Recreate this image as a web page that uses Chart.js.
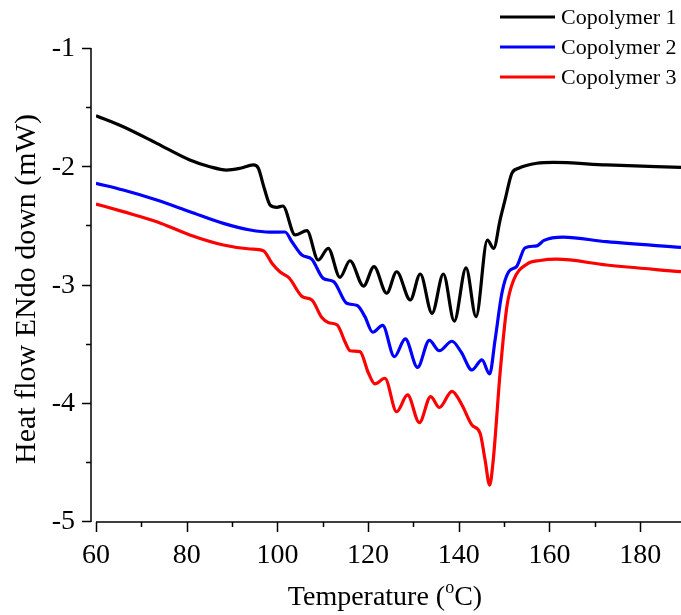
<!DOCTYPE html>
<html>
<head>
<meta charset="utf-8">
<script src="https://cdn.jsdelivr.net/npm/chart.js@4.4.0/dist/chart.umd.min.js"></script>
<style>
  html, body { margin: 0; padding: 0; background: #fff; }
  #wrap { width: 681px; height: 615px; position: relative; }
</style>
</head>
<body>
<div id="wrap"><canvas id="dsc"></canvas></div>
<script>
// DSC traces, temperature in degC and heat flow in mW
const temp1 = [60, 66, 73.4, 80.7, 85.1, 88.8, 91.8, 94.7, 95.8, 97.0, 98.4, 99.9, 101.2, 103.9, 106.5, 109.0, 111.2, 113.8, 116.0, 119.0, 121.3, 124.1, 126.3, 129.3, 131.5, 134.1, 136.6, 139.0, 141.6, 143.8, 146.3, 147.7, 149.1, 150.2, 151.7, 153.2, 157.2, 160.9, 172.6, 189];
const flow1 = [-1.573, -1.666, -1.806, -1.947, -2.004, -2.032, -2.017, -1.989, -2.017, -2.173, -2.328, -2.347, -2.336, -2.581, -2.545, -2.793, -2.694, -2.939, -2.799, -3.013, -2.849, -3.074, -2.892, -3.131, -2.911, -3.244, -2.911, -3.31, -2.86, -3.272, -2.624, -2.694, -2.455, -2.285, -2.06, -2.017, -1.975, -1.967, -1.989, -2.009];

const temp2 = [60, 66, 73.4, 80.7, 88.1, 94.0, 98.4, 101.7, 103.2, 105.4, 107.6, 110.1, 112.4, 115.3, 117.6, 119.3, 121.0, 123.2, 125.8, 128.2, 130.9, 133.5, 135.7, 138.5, 140.5, 142.9, 145.1, 146.8, 148.0, 149.5, 151.0, 152.8, 154.6, 157.2, 158.8, 163, 172.6, 189];
const flow2 = [-2.144, -2.201, -2.285, -2.384, -2.483, -2.539, -2.557, -2.556, -2.638, -2.751, -2.787, -2.948, -2.975, -3.159, -3.178, -3.272, -3.403, -3.346, -3.61, -3.46, -3.701, -3.472, -3.56, -3.48, -3.57, -3.723, -3.638, -3.757, -3.469, -3.074, -2.892, -2.845, -2.69, -2.673, -2.627, -2.6, -2.638, -2.686];

const temp3 = [60, 66, 73.4, 80.7, 88.1, 94.0, 96.9, 98.8, 100.6, 102.6, 105.5, 107.6, 109.8, 111.3, 113.2, 114.9, 116.0, 118.2, 120.1, 121.5, 123.7, 126.3, 128.7, 131.3, 133.8, 135.7, 138.5, 140.7, 142.9, 144.7, 145.8, 146.8, 147.6, 149.1, 150.6, 152.1, 155.0, 157.9, 161.6, 172.6, 189];
const flow3 = [-2.319, -2.384, -2.469, -2.581, -2.666, -2.7, -2.714, -2.821, -2.895, -2.945, -3.103, -3.131, -3.28, -3.323, -3.342, -3.484, -3.56, -3.568, -3.751, -3.841, -3.793, -4.076, -3.934, -4.168, -3.948, -4.04, -3.904, -4.019, -4.188, -4.258, -4.484, -4.696, -4.484, -3.751, -3.188, -2.962, -2.828, -2.797, -2.786, -2.835, -2.892];

const seriesNames = ['Copolymer 1', 'Copolymer 2', 'Copolymer 3'];
const seriesColors = ['#000000', '#0000ff', '#ff0000'];

const xTicks = [60, 80, 100, 120, 140, 160, 180];
const xMinor = [70, 90, 110, 130, 150, 170];
const yTicks = [-1, -2, -3, -4, -5];
const yMinor = [-1.5, -2.5, -3.5, -4.5];

const SERIF = '"Liberation Serif", "Times New Roman", serif';

function pairs(xs, ys) {
  return xs.map((t, i) => ({ x: t, y: ys[i] }));
}

// axes, ticks, titles and legend drawn by hand in Origin style
const frame = {
  id: 'frame',
  afterDraw(chart) {
    const ctx = chart.ctx;
    const a = chart.chartArea;
    const xs = chart.scales.x, ys = chart.scales.y;
    const axX = a.left - 5;
    const axY = a.bottom + 1;

    ctx.save();
    ctx.strokeStyle = '#000';
    ctx.fillStyle = '#000';
    ctx.lineWidth = 1.5;

    ctx.beginPath();
    ctx.moveTo(axX, a.top);
    ctx.lineTo(axX, axY);
    ctx.moveTo(a.left, axY);
    ctx.lineTo(a.right, axY);
    yTicks.forEach(v => {
      const py = Math.round(ys.getPixelForValue(v)) + 0.5;
      ctx.moveTo(axX, py); ctx.lineTo(axX - 9, py);
    });
    yMinor.forEach(v => {
      const py = Math.round(ys.getPixelForValue(v)) + 0.5;
      ctx.moveTo(axX, py); ctx.lineTo(axX - 5, py);
    });
    xTicks.forEach(v => {
      const px = Math.round(xs.getPixelForValue(v)) + 0.5;
      ctx.moveTo(px, axY); ctx.lineTo(px, axY + 10);
    });
    xMinor.forEach(v => {
      const px = Math.round(xs.getPixelForValue(v)) + 0.5;
      ctx.moveTo(px, axY); ctx.lineTo(px, axY + 5);
    });
    ctx.stroke();

    ctx.font = '28px ' + SERIF;
    ctx.textAlign = 'right';
    ctx.textBaseline = 'middle';
    yTicks.forEach(v => ctx.fillText(String(v), axX - 16, ys.getPixelForValue(v) + 1));
    ctx.textAlign = 'center';
    ctx.textBaseline = 'alphabetic';
    xTicks.forEach(v => ctx.fillText(String(v), xs.getPixelForValue(v), 563));

    // x title with superscript degree "o"
    const big = '28px ' + SERIF, small = '18px ' + SERIF;
    const p1 = 'Temperature (', p2 = 'o', p3 = 'C)';
    ctx.font = big;
    const w1 = ctx.measureText(p1).width, w3 = ctx.measureText(p3).width;
    ctx.font = small;
    const w2 = ctx.measureText(p2).width;
    let tx = 385 - (w1 + w2 + w3) / 2;
    const base = 605;
    ctx.textAlign = 'left';
    ctx.font = big; ctx.fillText(p1, tx, base); tx += w1;
    ctx.font = small; ctx.fillText(p2, tx, base - 12); tx += w2;
    ctx.font = big; ctx.fillText(p3, tx, base);

    // y title
    ctx.save();
    ctx.translate(35, 289);
    ctx.rotate(-Math.PI / 2);
    ctx.font = '30px ' + SERIF;
    ctx.textAlign = 'center';
    ctx.fillText('Heat flow ENdo down (mW)', 0, 0);
    ctx.restore();

    // legend
    ctx.font = '22px ' + SERIF;
    ctx.textAlign = 'left';
    ctx.textBaseline = 'middle';
    chart.data.datasets.forEach((ds, i) => {
      const ly = 17 + i * 30;
      ctx.strokeStyle = ds.borderColor;
      ctx.lineWidth = 3;
      ctx.beginPath();
      ctx.moveTo(500, ly);
      ctx.lineTo(555, ly);
      ctx.stroke();
      ctx.fillText(ds.label, 561, ly + 1);
    });
    ctx.restore();
  }
};

new Chart(document.getElementById('dsc'), {
  type: 'line',
  data: {
    datasets: [
      { label: seriesNames[0], data: pairs(temp1, flow1), borderColor: seriesColors[0] },
      { label: seriesNames[1], data: pairs(temp2, flow2), borderColor: seriesColors[1] },
      { label: seriesNames[2], data: pairs(temp3, flow3), borderColor: seriesColors[2] }
    ]
  },
  options: {
    responsive: true,
    maintainAspectRatio: false,
    animation: false,
    layout: { padding: { left: 96, right: 0, top: 48, bottom: 94 } },
    elements: {
      point: { radius: 0 },
      line: { borderWidth: 3.2, cubicInterpolationMode: 'monotone' }
    },
    scales: {
      x: { type: 'linear', min: 60, max: 189, display: false },
      y: { type: 'linear', min: -5, max: -1, display: false }
    },
    plugins: {
      legend: { display: false },
      tooltip: { enabled: false }
    }
  },
  plugins: [frame]
});
</script>
</body>
</html>
